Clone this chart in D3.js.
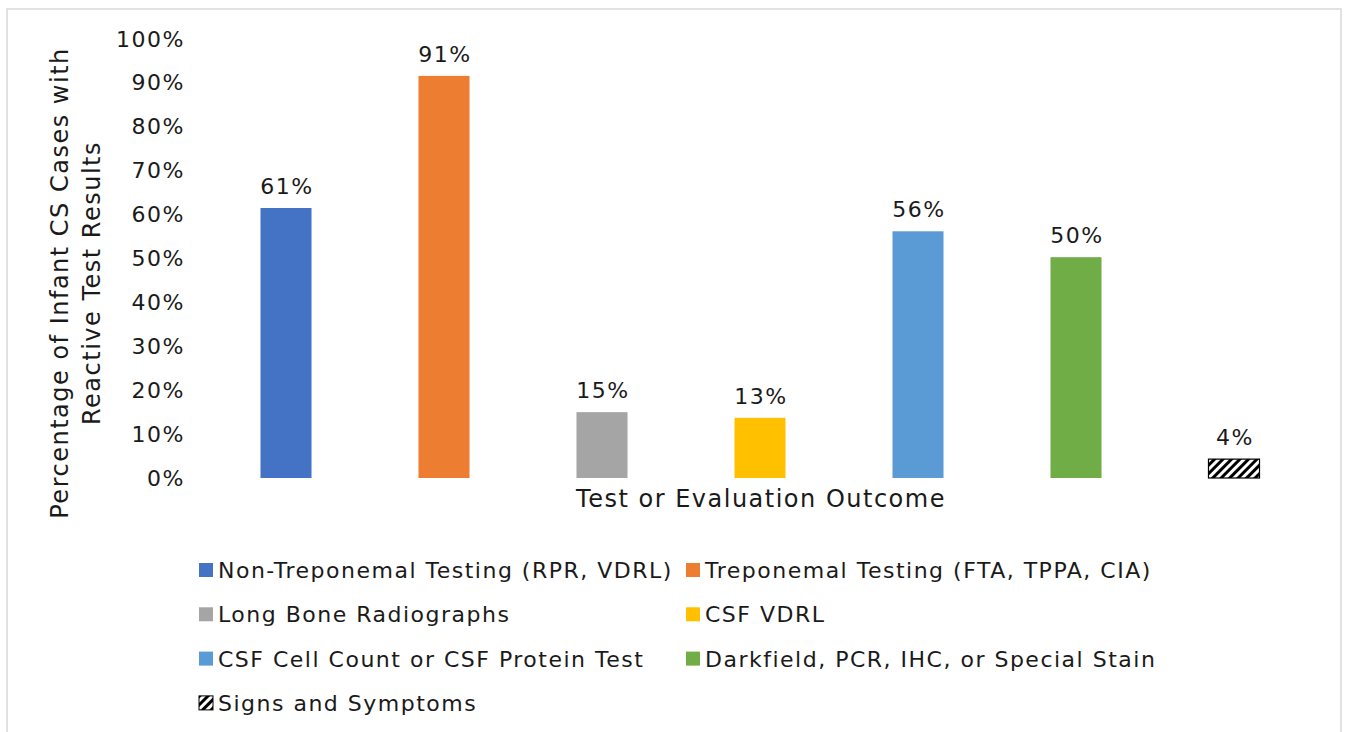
<!DOCTYPE html>
<html>
<head>
<meta charset="utf-8">
<script src="https://cdn.jsdelivr.net/npm/d3@7"></script>
<style>
  body { margin: 0; background: #fff; }
  text { font-family: "DejaVu Sans", Verdana, sans-serif; fill: #1a1a1a; letter-spacing: 1.5px; }
</style>
</head>
<body>
<div id="plot"></div>
<script>

var categories = [
  "Non-Treponemal Testing (RPR, VDRL)",
  "Treponemal Testing (FTA, TPPA, CIA)",
  "Long Bone Radiographs",
  "CSF VDRL",
  "CSF Cell Count or CSF Protein Test",
  "Darkfield, PCR, IHC, or Special Stain",
  "Signs and Symptoms"
];
var values = [61.5, 91.6, 15.0, 13.7, 56.2, 50.3, 4.3];
var labels = ["61%", "91%", "15%", "13%", "56%", "50%", "4%"];
var colors = ["#4472C4", "#ED7D31", "#A5A5A5", "#FFC000", "#5B9BD5", "#70AD47", "url(#hatch)"];
var yTicks = [0, 10, 20, 30, 40, 50, 60, 70, 80, 90, 100];

var width = 1347, height = 732;

var svg = d3.select("#plot")
	.append("svg")
	.attr("width", width)
	.attr("height", height);

// hatch pattern for the last bar
var defs = svg.append("defs");
var pat = defs.append("pattern")
	.attr("id", "hatch")
	.attr("patternUnits", "userSpaceOnUse")
	.attr("width", 6)
	.attr("height", 6)
	.attr("patternTransform", "rotate(45)");
pat.append("rect").attr("width", 6).attr("height", 6).attr("fill", "#fff");
pat.append("rect").attr("width", 3).attr("height", 6).attr("fill", "#000");

// outer frame (open at the bottom)
svg.append("path")
	.attr("d", "M7,732 V9 H1341 V732")
	.attr("fill", "none")
	.attr("stroke", "#d9d9d9")
	.attr("stroke-width", 1.5);

var x = d3.scaleBand()
	.domain(categories)
	.range([207, 1313])
	.paddingInner(0.677)
	.paddingOuter(0.3385);

var y = d3.scaleLinear()
	.domain([0, 100])
	.range([478, 39]);

// y axis labels (no line, no ticks)
var yAxis = d3.axisLeft(y)
	.tickValues(yTicks)
	.tickFormat(function(d){ return d + "%"; })
	.tickSize(0)
	.tickPadding(0);

var gy = svg.append("g")
	.attr("transform", "translate(185,0)")
	.call(yAxis);
gy.select(".domain").remove();
gy.selectAll("text")
	.style("font-family", "'DejaVu Sans', Verdana, sans-serif")
	.style("font-size", "22px")
	.attr("fill", "#1a1a1a");

// bars
svg.selectAll("rect.bar")
	.data(categories)
	.enter()
	.append("rect")
	.attr("class", "bar")
	.attr("x", function(d){ return x(d); })
	.attr("width", x.bandwidth())
	.attr("y", function(d, i){ return y(values[i]); })
	.attr("height", function(d, i){ return y(0) - y(values[i]); })
	.attr("fill", function(d, i){ return colors[i]; })
	.attr("stroke", function(d, i){ return i === 6 ? "#000" : "none"; })
	.attr("stroke-width", 1.2);

// data labels
svg.selectAll("text.lbl")
	.data(categories)
	.enter()
	.append("text")
	.attr("class", "lbl")
	.attr("x", function(d){ return x(d) + x.bandwidth() / 2 + 1; })
	.attr("y", function(d, i){ return y(values[i]) - 14; })
	.attr("text-anchor", "middle")
	.style("font-size", "22px")
	.text(function(d, i){ return labels[i]; });

// x axis title
svg.append("text")
	.attr("x", 761)
	.attr("y", 507)
	.attr("text-anchor", "middle")
	.style("font-size", "24px")
	.text("Test or Evaluation Outcome");

// y axis title
var yt = svg.append("text")
	.attr("transform", "translate(0,283) rotate(-90)")
	.attr("text-anchor", "middle")
	.style("font-size", "24px");
yt.append("tspan").attr("x", 0).attr("y", 68).text("Percentage of Infant CS Cases with");
yt.append("tspan").attr("x", 0).attr("y", 100).text("Reactive Test Results");

// legend
var legend = svg.append("g");
var items = legend.selectAll("g")
	.data(categories)
	.enter()
	.append("g")
	.attr("transform", function(d, i){
		var col = i % 2, row = Math.floor(i / 2);
		return "translate(" + (col === 0 ? 199 : 686) + "," + (570 + row * 44.3) + ")";
	});

items.append("rect")
	.attr("x", 0)
	.attr("y", -7)
	.attr("width", 14)
	.attr("height", 14)
	.attr("fill", function(d, i){ return colors[i]; })
	.attr("stroke", function(d, i){ return i === 6 ? "#000" : "none"; })
	.attr("stroke-width", 1);

items.append("text")
	.attr("x", 19)
	.attr("y", 0)
	.attr("dy", "0.36em")
	.style("font-size", "22px")
	.text(function(d){ return d; });

</script>
</body>
</html>
